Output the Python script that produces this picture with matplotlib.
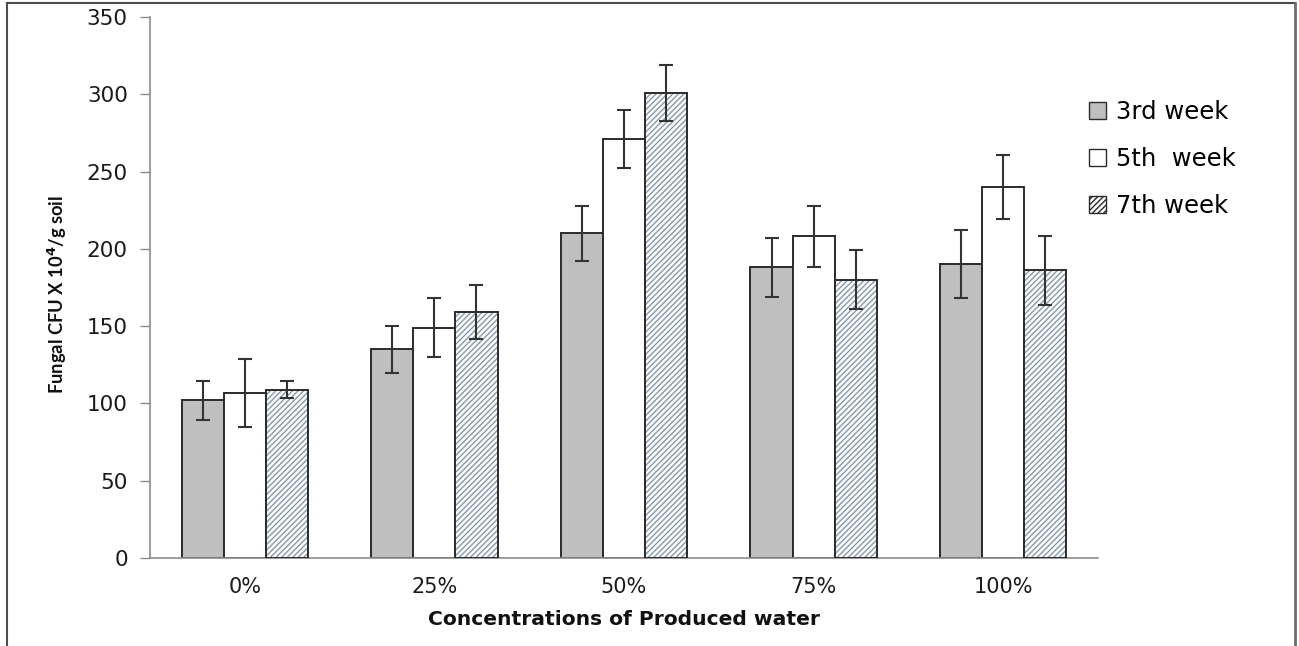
import matplotlib
matplotlib.use("Agg")
import matplotlib.pyplot as plt
import numpy as np
from matplotlib.patches import Patch
from matplotlib.lines import Line2D

categories = ["0%", "25%", "50%", "75%", "100%"]
series_names = ["3rd week", "5th  week", "7th week"]
week3 = [102, 135, 210, 188, 190]
week5 = [107, 149, 271, 208, 240]
week7 = [109, 159, 301, 180, 186]
err3 = [12.5, 15, 18, 19, 22]
err5 = [22, 19, 19, 20, 21]
err7 = [5.5, 17.5, 18, 19, 22]

W, H = 1299, 646
fig = plt.figure(figsize=(W / 100, H / 100), dpi=100)
ax = fig.add_axes([150 / W, (H - 558) / H, (1098 - 150) / W, (558 - 17) / H])

x = np.arange(len(categories))
bw = 0.222
edge = "#2b2b2b"
hatch_col = "#8598ab"
err_kw = dict(ecolor="#333333", elinewidth=1.5, capsize=4.7, capthick=1.5)

ax.bar(x - bw, week3, bw, color="#bfbfbf", edgecolor=edge, linewidth=1.4, zorder=2)
ax.bar(x, week5, bw, color="white", edgecolor=edge, linewidth=1.4, zorder=2)
ax.bar(x + bw, week7, bw, color="white", edgecolor=hatch_col, linewidth=0,
       hatch="//////", zorder=2)
ax.bar(x + bw, week7, bw, color="none", edgecolor=edge, linewidth=1.4, zorder=3)

ax.errorbar(x - bw, week3, yerr=err3, fmt="none", zorder=4, **err_kw)
ax.errorbar(x, week5, yerr=err5, fmt="none", zorder=4, **err_kw)
ax.errorbar(x + bw, week7, yerr=err7, fmt="none", zorder=4, **err_kw)

ax.set_xlim(-0.5, len(categories) - 0.5)
ax.set_ylim(0, 350)
ax.set_yticks(np.arange(0, 351, 50))
ax.set_xticks(x)
ax.set_xticklabels(categories)

for s in ["top", "right"]:
    ax.spines[s].set_visible(False)
for s in ["left", "bottom"]:
    ax.spines[s].set_color("#8c8c8c")
    ax.spines[s].set_linewidth(1.2)
ax.tick_params(axis="y", length=7, width=1.0, color="#8c8c8c", labelsize=15.5,
               pad=9, labelcolor="#1a1a1a")
ax.tick_params(axis="x", length=0, labelsize=15, pad=14, labelcolor="#1a1a1a")
for lab in ax.get_xticklabels() + ax.get_yticklabels():
    lab.set_fontfamily("DejaVu Sans")

ax.set_xlabel("Concentrations of Produced water", fontsize=14.6, fontweight="bold",
              fontfamily="DejaVu Sans", labelpad=9, color="#111111")
fig.text(57 / W, 1 - 294 / H, r"Fungal CFU X 10$^{\mathbf{4}}$/g soil", rotation=90,
         ha="center", va="center", fontsize=13.2, fontweight="bold",
         fontfamily="Lato", color="#111111")

handles = [
    Patch(facecolor="#bfbfbf", edgecolor=edge, linewidth=1.0),
    Patch(facecolor="white", edgecolor=edge, linewidth=1.0),
    Patch(facecolor="white", edgecolor=edge, linewidth=1.0, hatch="//////"),
]
leg = fig.legend(handles, series_names, loc="upper left",
                 bbox_to_anchor=(1067 / W, 1 - 78 / H), frameon=False,
                 prop={"family": "DejaVu Sans", "size": 17.5},
                 handlelength=0.72, handleheight=0.72, handletextpad=0.4,
                 labelspacing=0.95)

# figure border (left, top, right)
fig.add_artist(Line2D([7 / W, 7 / W], [0, 1 - 3 / H], transform=fig.transFigure,
                      color="#4d4d4d", linewidth=1.5))
fig.add_artist(Line2D([7 / W, 1295 / W], [1 - 3 / H, 1 - 3 / H], transform=fig.transFigure,
                      color="#4d4d4d", linewidth=1.5))
fig.add_artist(Line2D([1295 / W, 1295 / W], [0, 1 - 3 / H], transform=fig.transFigure,
                      color="#6d6d6d", linewidth=2))

fig.savefig("out.png", dpi=100)
